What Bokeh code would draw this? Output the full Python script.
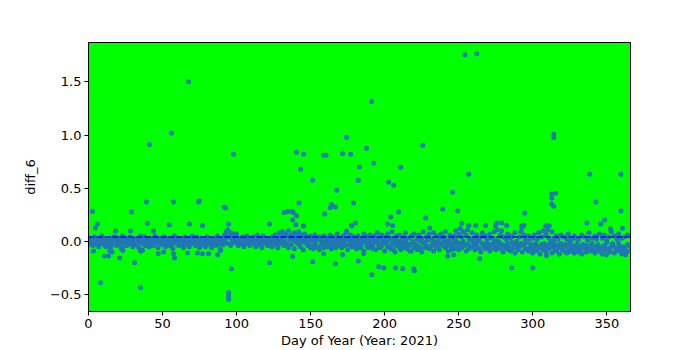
from bokeh.plotting import figure
from bokeh.models import Range1d, FixedTicker, Span, ColumnDataSource
from bokeh.embed import file_html
from bokeh.resources import INLINE

# ---- data ----
cluster_a = [
    0.02, -0.03, 0.01, 0.04, -0.01, 0.00, 0.03, -0.02, 0.05, 0.01,
    -0.04, 0.02, 0.00, 0.03, -0.02, 0.01, 0.04, -0.03, 0.02, 0.00,
    0.03, -0.01, 0.05, 0.01, -0.02, 0.02, 0.00, 0.04, -0.03, 0.01,
    0.02, -0.02, 0.03, 0.00, 0.05, -0.01, 0.02, 0.04, -0.04, 0.01,
    0.00, 0.03, -0.02, 0.02, 0.05, -0.01, 0.01, 0.03, -0.03, 0.02,
    0.04, 0.00, -0.02, 0.03, 0.01, -0.04, 0.02, 0.05, 0.00, -0.01,
    0.03, 0.01, -0.03, 0.02, 0.04, 0.00, -0.02, 0.03, 0.01, 0.05,
    -0.01, 0.02, 0.04, -0.03, 0.01, 0.03, 0.00, -0.02, 0.02, 0.04,
    0.01, -0.03, 0.03, 0.00, 0.02, -0.01, 0.05, 0.01, -0.02, 0.03,
    0.02, 0.06, 0.09, 0.11, 0.04, 0.08, -0.01, 0.05, 0.02, 0.07,
    0.01, 0.03, -0.02, 0.04, 0.00, 0.02, 0.05, -0.01, 0.03, 0.01,
    0.04, -0.02, 0.02, 0.06, 0.00, 0.03, -0.01, 0.05, 0.02, 0.00,
    0.03, 0.01, -0.03, 0.04, 0.02, 0.06, 0.00, 0.03, 0.08, 0.05,
    0.09, 0.02, 0.07, -0.02, 0.10, 0.04, 0.06, 0.01, 0.08, 0.03,
    0.05, 0.09, -0.01, 0.06, 0.03, 0.07, 0.00, 0.04, 0.02, 0.05,
    -0.04, 0.03, 0.06, 0.01, -0.06, 0.04, 0.02, -0.03, 0.05, 0.00,
    0.03, -0.02, 0.06, 0.01, 0.04, -0.05, 0.02, 0.07, 0.00, 0.03,
    -0.03, 0.05, 0.01, 0.08, 0.03, -0.02, 0.06, 0.02, 0.04, -0.04,
    0.01, 0.05, 0.03, -0.06, 0.02, 0.07, 0.00, 0.04, -0.03, 0.06,
    0.02, -0.07, 0.05, 0.01, 0.08, -0.04, 0.03, 0.06, -0.02, 0.04,
    0.00, 0.07, -0.05, 0.03, 0.09, -0.08, 0.02, 0.05, -0.03, 0.06,
    0.01, -0.06, 0.04, 0.08, -0.02, 0.03, -0.09, 0.05, 0.00, 0.07,
    -0.04, 0.02, 0.06, -0.07, 0.03, 0.09, -0.01, 0.04, -0.05, 0.07,
    0.02, -0.03, 0.08, 0.00, 0.05, -0.06, 0.03, 0.07, -0.02, 0.04,
    0.09, -0.04, 0.01, 0.06, -0.08, 0.03, 0.05, 0.10, -0.01, 0.07,
    0.12, 0.04, 0.09, -0.03, 0.06, 0.11, 0.02, -0.05, 0.08, 0.03,
    -0.02, 0.06, 0.01, -0.07, 0.04, 0.08, -0.03, 0.05, 0.02, -0.06,
    0.07, 0.03, -0.04, 0.09, 0.01, 0.11, -0.02, 0.06, 0.10, 0.04,
    -0.05, 0.02, 0.07, -0.08, 0.03, 0.05, -0.02, 0.08, 0.00, -0.06,
    0.04, 0.09, -0.03, 0.06, 0.01, -0.07, 0.05, 0.02, -0.09, 0.03,
    0.06, -0.04, 0.02, 0.08, -0.06, 0.04, 0.10, -0.02, 0.07, 0.11,
    0.03, -0.05, 0.09, 0.01, -0.08, 0.05, 0.02, -0.03, 0.06, -0.07,
    0.04, -0.10, 0.02, 0.07, -0.04, 0.01, -0.08, 0.05, 0.03, -0.06,
    0.02, -0.09, 0.06, -0.03, 0.04, -0.07, 0.01, 0.08, -0.05, 0.03,
    -0.08, 0.05, 0.02, -0.04, 0.07, -0.10, 0.03, 0.06, -0.06, 0.01,
    0.04, -0.07, 0.09, -0.02, 0.05, -0.09, 0.02, 0.07, -0.05, 0.03,
    -0.08, 0.04, -0.11, 0.06, -0.04,
]

cluster_b = [
    -0.02, 0.01, -0.04, 0.00, -0.03, 0.02, -0.05, -0.01, 0.03, -0.02,
    0.00, -0.05, 0.02, -0.03, -0.06, 0.01, -0.02, 0.04, -0.04, -0.01,
    -0.03, 0.02, -0.06, -0.01, 0.03, -0.04, 0.01, -0.02, 0.00, -0.05,
    0.01, -0.03, -0.01, -0.06, 0.02, -0.02, 0.00, -0.04, 0.03, -0.01,
    -0.05, 0.01, -0.02, -0.04, 0.00, 0.02, -0.06, -0.01, 0.01, -0.03,
    -0.01, -0.05, 0.02, -0.02, -0.04, 0.01, -0.07, -0.01, 0.03, -0.03,
    -0.04, 0.00, -0.02, -0.06, 0.01, -0.03, 0.02, -0.05, -0.01, -0.02,
    0.01, -0.04, -0.02, 0.00, -0.06, 0.02, -0.03, -0.01, -0.05, 0.00,
    -0.02, 0.01, -0.06, -0.03, 0.00, -0.04, 0.02, -0.02, -0.07, -0.01,
    -0.03, 0.00, 0.03, -0.02, 0.05, -0.04, 0.02, 0.07, -0.01, 0.03,
    -0.04, -0.01, 0.02, -0.03, -0.05, 0.00, -0.02, 0.01, -0.04, -0.02,
    -0.01, 0.02, -0.05, -0.02, 0.01, -0.03, -0.06, 0.00, -0.02, 0.01,
    -0.04, -0.02, 0.00, -0.05, -0.01, 0.02, -0.03, -0.06, 0.01, -0.02,
    0.03, -0.04, -0.01, 0.05, -0.06, 0.02, -0.03, 0.04, -0.07, 0.00,
    -0.02, 0.03, -0.05, 0.01, -0.08, -0.01, 0.02, -0.04, 0.00, -0.06,
    0.01, -0.07, -0.02, -0.05, 0.02, -0.08, -0.03, 0.00, -0.06, -0.02,
    -0.05, 0.01, -0.03, -0.07, -0.01, 0.02, -0.06, -0.02, -0.04, 0.01,
    -0.06, -0.01, -0.04, 0.02, -0.08, -0.03, 0.00, -0.05, -0.02, 0.01,
    -0.07, -0.03, 0.00, -0.05, -0.01, -0.09, 0.02, -0.04, -0.06, 0.00,
    -0.03, -0.05, -0.01, -0.08, 0.01, -0.02, -0.06, -0.04, 0.00, -0.09,
    -0.02, -0.05, 0.01, -0.07, -0.03, -0.01, -0.10, -0.04, 0.00, -0.06,
    -0.08, -0.02, -0.05, 0.01, -0.07, -0.03, -0.04, -0.09, -0.01, -0.06,
    -0.03, -0.08, -0.05, 0.00, -0.10, -0.02, -0.06, -0.04, 0.01, -0.07,
    -0.05, 0.02, -0.09, -0.03, -0.06, -0.01, -0.08, -0.02, -0.04, 0.00,
    -0.06, -0.03, -0.09, -0.01, -0.05, -0.02, -0.07, 0.01, -0.04, -0.08,
    -0.02, -0.06, 0.00, -0.04, -0.09, -0.03, -0.07, 0.01, -0.05, -0.01,
    -0.08, -0.04, -0.06, 0.00, -0.10, -0.02, -0.05, -0.07, -0.01, -0.04,
    -0.09, -0.03, -0.06, -0.01, -0.08, -0.05, 0.00, -0.07, -0.03, -0.10,
    -0.04, -0.07, -0.02, -0.05, -0.09, -0.01, -0.06, -0.11, -0.03, -0.08,
    -0.05, -0.02, -0.10, -0.04, -0.07, -0.01, -0.09, -0.06, -0.03, -0.11,
    -0.07, -0.02, -0.09, -0.05, -0.12, -0.03, -0.08, -0.06, -0.10, -0.04,
    -0.07, -0.01, -0.11, -0.05, -0.03, -0.09, -0.06, -0.12, -0.02, -0.08,
    -0.05, -0.03, -0.10, -0.07, -0.01, -0.09, -0.04, -0.11, -0.06, -0.02,
    -0.08, -0.05, -0.12, -0.03, -0.07, -0.10, -0.04, -0.06, -0.09, -0.02,
    -0.05, -0.11, -0.07, -0.03, -0.09, -0.06, -0.12, -0.04, -0.08, -0.01,
    -0.07, -0.10, -0.05, -0.03, -0.11, -0.06, -0.08, -0.02, -0.09, -0.12,
    -0.05, -0.07, -0.10, -0.03, -0.09,
]

outlier_day = [
    67.6, 56.1, 41.2, 39.2, 57.4, 74.8, 74.3, 2.7, 29.1, 91.7, 6.1, 39.9, 54.5, 68.2, 77.0,
    174.3, 98.0, 140.5, 145.3, 158.8, 160.4, 171.6, 177.0, 143.2, 183.0, 151.4, 182.2, 167.6,
    142.2, 179.0, 164.2, 163.3, 166.8, 92.6, 132.2, 134.5, 137.4, 138.3, 140.5, 137.8, 159.5,
    122.3, 94.6, 140.1, 145.3, 180.4, 177.5,
    254.1, 262.2, 191.2, 187.8, 225.7, 192.6, 210.8, 256.8, 202.7, 206.1, 245.9, 239.2, 249.3,
    209.5, 204.1, 227.7, 202.0, 205.4, 252.0, 256.8, 261.5, 268.2, 274.8,
    314.2, 314.2, 338.5, 359.5, 315.5, 312.8, 312.8, 312.8, 314.2, 342.6, 294.6, 359.5, 348.6,
    346.0, 336.5, 275.7, 279.1, 282.4, 293.9, 309.5,
    4.7, 18.2, 28.4, 43.9, 174.3, 177.7, 145.0, 230.4, 292.6, 292.6, 308.8, 311.1, 352.5, 360.6,
    3.4, 10.8, 13.5, 21.0, 31.1, 8.1, 35.1, 35.1, 36.5, 14.5, 15.9, 22.1, 23.2, 47.1, 50.7,
    57.4, 58.1, 66.9, 73.6, 77.0, 81.1, 87.2, 89.2,
    94.6, 94.6, 94.6, 96.6, 122.3, 137.8, 151.4, 158.8, 166.9, 171.6, 182.2,
    191.3, 196.0, 199.4, 207.4, 212.2, 219.6, 220.1, 264.2, 185.8, 242.6, 246.6, 285.8, 300.0,
    309.3, 362.6, 349.8, 323.2, 330.2,
]
outlier_val = [
    1.50, 1.02, 0.91, 0.37, 0.37, 0.38, 0.37, 0.28, 0.275, 0.32, 0.163, 0.17, 0.156, 0.163, 0.15,
    0.977, 0.818, 0.837, 0.818, 0.81, 0.81, 0.824, 0.818, 0.678, 0.70, 0.575, 0.571, 0.48,
    0.36, 0.36, 0.346, 0.315, 0.322, 0.313, 0.272, 0.281, 0.281, 0.272, 0.24, 0.20, 0.256,
    0.163, 0.163, 0.156, 0.147, 0.172, 0.15,
    1.755, 1.764, 1.315, 0.875, 0.903, 0.734, 0.697, 0.631, 0.556, 0.528, 0.462, 0.303, 0.285,
    0.275, 0.228, 0.219, 0.163, 0.15, 0.169, 0.15, 0.15, 0.15, 0.15,
    1.006, 0.977, 0.631, 0.631, 0.453, 0.444, 0.406, 0.35, 0.331, 0.369, 0.266, 0.285, 0.20,
    0.163, 0.172, 0.172, 0.172, 0.15, 0.15, 0.15,
    0.125, 0.097, 0.097, 0.097, 0.097, 0.144, 0.144, 0.125, 0.144, 0.128, 0.144, 0.144, 0.116, 0.122,
    -0.09, -0.137, -0.137, -0.156, -0.202, -0.39, -0.436, -0.094, -0.084, -0.09, -0.10, -0.07, -0.087, -0.115, -0.10,
    -0.118, -0.156, -0.109, -0.109, -0.118, -0.118, -0.127, -0.087,
    -0.483, -0.515, -0.546, -0.258, -0.202, -0.143, -0.193, -0.118, -0.212, -0.127, -0.184,
    -0.315, -0.24, -0.25, -0.25, -0.258, -0.258, -0.277, -0.165, -0.118, -0.137, -0.127, -0.25, -0.25,
    -0.134, -0.127, -0.127, -0.109, -0.10,
]

mean_line = 0.041
x_ticks = [0, 50, 100, 150, 200, 250, 300, 350]
y_ticks = [-0.5, 0.0, 0.5, 1.0, 1.5]
y_tick_labels = ["\u22120.5", "0.0", "0.5", "1.0", "1.5"]

# ---- build ----
days = list(range(1, len(cluster_a) + 1)) + list(range(1, len(cluster_b) + 1)) + outlier_day
vals = cluster_a + cluster_b + outlier_val
src = ColumnDataSource(dict(day=days, val=vals))

FONT = "DejaVu Sans"
p = figure(width=700, height=350, output_backend="svg", toolbar_location=None,
           x_range=Range1d(0, 366), y_range=Range1d(-0.66, 1.87),
           min_border_left=88, min_border_right=70, min_border_top=42, min_border_bottom=38)

p.background_fill_color = "#00ff00"
p.border_fill_color = "white"
p.outline_line_color = "black"
p.outline_line_width = 1
p.grid.visible = False

p.scatter("day", "val", source=src, marker="circle", size=5,
          fill_color="#1f77b4", line_color=None)

p.add_layout(Span(location=mean_line, dimension="width", line_color="#0000ff",
                  line_dash="6 2", line_width=1.5))

p.xaxis.ticker = FixedTicker(ticks=x_ticks)
p.yaxis.ticker = FixedTicker(ticks=y_ticks)
p.yaxis.major_label_overrides = {t: l for t, l in zip(y_ticks, y_tick_labels)}
p.xaxis.axis_label = "Day of Year (Year: 2021)"
p.yaxis.axis_label = "diff_6"

for ax in (p.xaxis, p.yaxis):
    ax.major_tick_out = 4
    ax.major_tick_in = 0
    ax.minor_tick_out = 0
    ax.minor_tick_in = 0
    ax.axis_line_color = "black"
    ax.major_tick_line_color = "black"
    ax.major_label_text_font = FONT
    ax.major_label_text_font_size = "13px"
    ax.major_label_text_color = "black"
    ax.major_label_standoff = 3
    ax.axis_label_text_font = FONT
    ax.axis_label_text_font_size = "13px"
    ax.axis_label_text_font_style = "normal"
    ax.axis_label_text_color = "black"

p.xaxis.axis_label_standoff = 2
p.yaxis.axis_label_standoff = 9

open("out.html", "w").write(file_html(p, INLINE))
